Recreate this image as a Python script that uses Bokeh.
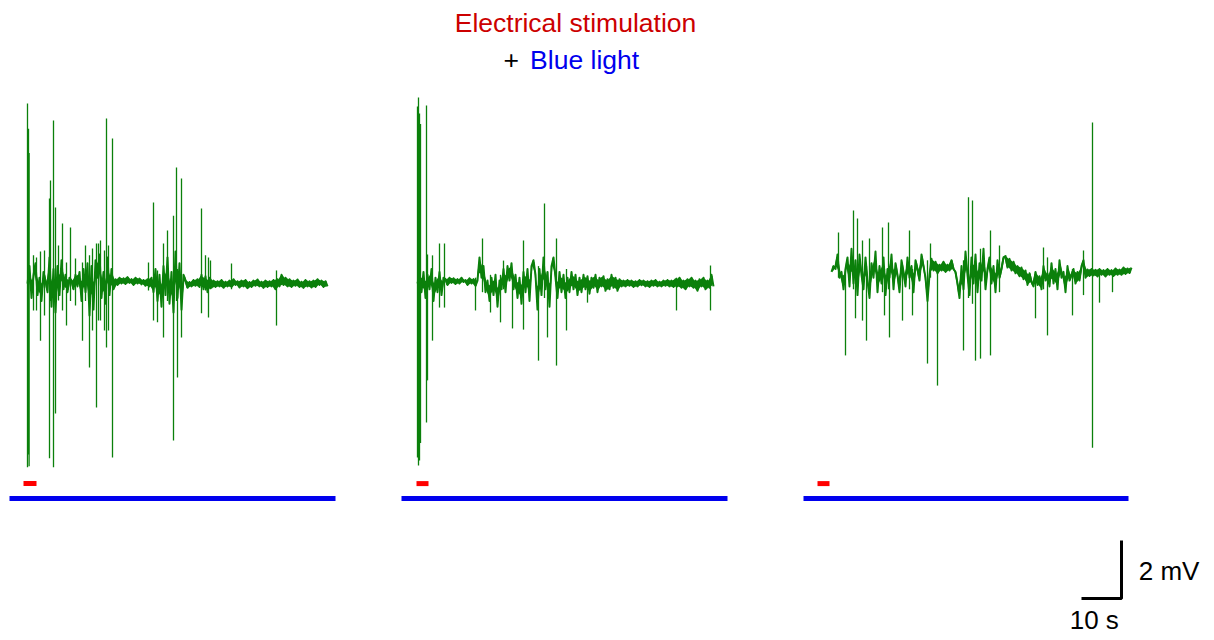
from bokeh.plotting import figure
from bokeh.models import Range1d
from bokeh.core.properties import value
from bokeh.embed import file_html
from bokeh.resources import INLINE
import numpy as np

# ---------------- data ----------------
DT = 0.5  # s, sample spacing of the traces
SWEEP_START = [6.75, 104.25, 207.75]  # s, sweep positions on the common time axis

trace1_mv = [0.0, 0.6, -0.5, 0.3, 0.7, -0.4, 0.2, -0.6, 0.4, 0.1,
             -0.3, 0.9, -0.8, 0.5, -1.0, 0.6, -0.4, 0.8, -0.2, 0.3,
             -0.3, 0.2, 0.1, -0.2, 0.3, -0.1, 0.4, -0.6, 0.5, -0.3,
             0.7, -1.1, 0.6, -0.9, 0.8, 0.2, 1.0, -0.5, 0.4, -0.7,
             0.9, -0.4, 0.5, -0.2,
             0.15, -0.05, 0.2, 0.0, 0.18, -0.02, 0.22, 0.02, 0.15, -0.05,
             0.2, 0.0, 0.17, -0.03, 0.12, -0.08, 0.15, -0.1,
             0.2, -0.3, 0.5, -0.6, 0.3, -0.8, 0.6, -0.4, 0.9, -0.7,
             0.4, -1.0, 1.1, -0.5, 0.7, -0.9, 0.3,
             0.1, -0.15, 0.05, -0.1, 0.12, -0.08, 0.15, -0.12, 0.3, -0.2,
             0.25, -0.3, 0.2, -0.15, 0.1, -0.12, 0.08, -0.1, 0.12, -0.15,
             0.06, -0.1, 0.1, -0.12, 0.15, -0.05, 0.08, -0.14, 0.1, -0.1,
             0.12, -0.16, 0.05, -0.12, 0.1, -0.08, 0.14, -0.1, 0.06, -0.15,
             0.1, -0.12, 0.08, -0.1, 0.12, -0.2, 0.15, -0.1, 0.3, -0.05,
             0.2, -0.1, 0.15, -0.12, 0.1, -0.08, 0.14, -0.12, 0.06, -0.15,
             0.12, -0.1, 0.08, -0.14, 0.1, -0.12, 0.15, -0.05, 0.1, -0.12,
             0.08, -0.1]

trace2_mv = [0.0, 0.3, -0.3,
             0.4, -0.5, 0.3, -0.2, 0.5, -0.6, 0.2, -0.3, 0.4, -0.4, 0.2,
             0.15, -0.05, 0.2, 0.02, 0.18, -0.02, 0.15, 0.0, 0.2, 0.05,
             0.12, -0.05, 0.18, 0.0, 0.15, -0.08, 0.1,
             0.9, 0.2, 0.6, -0.3, 0.1, -0.6, 0.2, -0.4, 0.3, -0.8,
             0.1, -0.2, 0.5, -0.3, 0.6, 0.1, 0.7, -0.2, 0.3, -0.5,
             0.2, -0.7, 0.4, -0.3, 0.5, -0.6, 0.6, 0.8, 0.3, -0.9,
             0.5, -0.4, 0.9, -0.2, 0.4, -0.8, 0.6, 0.9, 0.2, -0.5,
             0.4, -0.3, 0.3, -0.5, 0.2, -0.3, 0.4, -0.2, 0.3, -0.4,
             0.2, -0.3,
             0.3, -0.2, 0.25, -0.35, 0.2, -0.15, 0.3, -0.3, 0.2, -0.1,
             0.25, -0.25, 0.15, -0.2, 0.3, -0.15, 0.2, -0.25, 0.15, -0.1,
             0.1, -0.1, 0.12, -0.08, 0.1, -0.12, 0.08, -0.1, 0.12, -0.06,
             0.1, -0.1, 0.08, -0.12, 0.1, -0.08, 0.12, -0.1, 0.06, -0.1,
             0.1, -0.08, 0.12, -0.1, 0.1, -0.12, 0.15, -0.1,
             0.2, -0.15, 0.1, -0.2, 0.15, -0.1, 0.2, -0.15, 0.1, -0.25,
             0.15, -0.1, 0.2, -0.2, 0.1, -0.15, 0.3, -0.1]

trace3_mv = [0.4, 0.6, 0.5, 1.0, 0.2, 0.4, -0.2, 0.5,
             0.9, -0.1, 1.2, 0.0, 0.8, -0.4, 1.0, 0.3, -0.2, 0.9,
             0.1, -0.5, 0.7, 0.2, 1.1, -0.3, 0.6, 0.0, 0.9, -0.4,
             0.5, 0.2, 1.0, -0.2, 0.7, 0.3, -0.3, 0.8,
             0.4, -0.1, 0.9, 0.2, 0.6, -0.3, 0.8, 0.5, 0.1, 1.0, 0.6, 0.2,
             -0.6, 0.3, 0.85, 0.45, 0.75, 0.35, 0.65, 0.45, 0.75, 0.4,
             0.65, 0.45, 0.8, 0.5, 0.4,
             0.0, -0.5, 0.6, -0.2, 1.1, 0.3, -0.4, 0.9, 0.0, 1.0,
             -0.3, 0.7, 0.1, 1.2, -0.2, 0.5, 0.9, 0.0, 0.6, -0.3,
             0.8, 0.2, 0.5, 0.9,
             0.95, 0.55, 0.85, 0.45, 0.75, 0.35, 0.6, 0.25, 0.55, 0.15,
             0.45, -0.05, 0.35, 0.05, -0.1, 0.4, -0.05, 0.25, -0.2, 0.6,
             0.1, 0.35, -0.1,
             0.7, 0.0, 0.5, -0.2, 0.8, 0.2, 0.4, -0.3, 0.6, 0.1,
             0.3, 0.5, 0.0, 0.4, 0.1, 0.6, 0.8, 0.2,
             0.48, 0.26, 0.5, 0.28, 0.47, 0.24, 0.5, 0.3, 0.46, 0.24,
             0.5, 0.3, 0.46, 0.26, 0.52, 0.3, 0.48, 0.3, 0.55, 0.33,
             0.52, 0.36, 0.55]

# fast excursions (time within sweep, s ; peak and trough, mV)
spikes1_t = [0.0, 0.25, 0.4, 2.25, 3.25, 5.5, 5.75, 6.5, 7.0, 8.75,
             10.75, 13.75, 14.5, 15.5, 17.25, 17.75, 19.75, 20.25, 21.25, 30.25,
             31.5, 32.5, 34.0, 35.0, 36.5, 37.25, 37.5, 38.5, 43.5, 44.5,
             45.25, 45.75, 51.0, 62.25,
             1.5, 4.25, 7.75, 9.75, 12.0, 16.25, 18.25, 19.25]
spikes1_hi = [6.21, 5.34, 4.5, 0.9, 1.1, 2.93, 3.55, 5.62, 2.62, 2.07,
              1.93, 0.72, 1.31, 0.97, 1.38, 1.38, 5.69, 1.31, 5.0, 0.72,
              2.79, 0.45, 1.38, 1.83, 2.34, 4.0, 0.5, 3.62, 2.59, 0.97,
              0.9, 0.79, 0.69, 0.45,
              0.97, 1.14, 1.31, 0.72, 0.86, 1.21, 1.48, 1.14]
spikes1_lo = [-6.34, -5.9, -6.3, -0.93, -1.97, -6.03, -0.6, -6.34, -4.48, -0.93,
              -0.6, -1.97, -0.6, -2.9, -4.28, -1.28, -2.21, -1.62, -6.0, -0.24,
              -1.28, -1.34, -1.86, -0.6, -5.41, -0.6, -3.24, -1.86, -1.03, -0.24,
              -1.17, -0.2, -0.2, -1.45,
              -0.93, -1.1, -0.59, -1.45, -0.76, -1.62, -1.28, -1.62]

spikes2_t = [0.0, 0.25, 0.5, 0.75, 2.25, 2.5, 3.75, 5.5, 6.75, 14.5,
             16.25, 18.25, 20.75, 21.5, 23.75, 26.5, 30.25, 31.75, 32.5, 34.75,
             37.25, 42.5, 64.75, 73.25]
spikes2_hi = [6.1, 6.41, 5.86, 5.5, 6.14, 1.0, 0.97, 1.38, 1.38, 0.2,
              1.55, 0.3, 0.3, 0.79, 0.3, 1.48, 0.6, 2.76, 0.4, 1.55,
              0.5, 0.2, 0.2, 0.62]
spikes2_lo = [-6.0, -6.28, -6.1, -5.5, -4.79, -3.34, -1.97, -0.83, -0.83, -0.93,
              -0.3, -1.0, -1.34, -0.2, -1.55, -1.59, -2.66, -0.5, -1.86, -2.83,
              -1.62, -0.66, -0.93, -0.93]

spikes3_t = [1.75, 3.5, 5.5, 6.0, 6.5, 7.75, 8.75, 9.5, 12.75, 13.25,
             14.25, 14.5, 17.75, 19.5, 20.25, 24.0, 24.75, 26.5, 33.0, 34.25,
             35.25, 36.0, 37.25, 39.75, 42.0, 51.0, 53.0, 54.0, 60.25, 63.0,
             65.25, 67.0, 70.25]
spikes3_hi = [1.76, 0.5, 2.52, 0.8, 2.24, 1.48, 0.6, 1.55, 1.93, 0.5,
              2.1, 0.6, 0.5, 1.83, 0.5, 0.8, 1.38, 0.5, 0.8, 2.97,
              2.86, 0.6, 1.2, 1.83, 1.31, 0.4, 1.24, 0.9, 0.5, 1.14,
              5.55, 0.4, 0.4]
spikes3_lo = [0.2, -2.48, -0.2, -1.2, 0.0, -1.28, -1.97, 0.0, -0.3, -1.1,
              -0.2, -1.86, -1.28, -0.2, -1.1, -2.76, 0.2, -3.52, -2.31, -0.5,
              -0.7, -2.66, -2.59, -2.48, -0.3, -1.2, -0.2, -1.79, -1.1, -0.4,
              -5.66, -0.66, -0.3]

# stimulation / light windows (s, relative to sweep start)
stim_on = [-1.0, -0.25, -3.5]
stim_off = [2.25, 2.75, -0.5]
light_on = [-4.5, -4.0, -7.0]
light_off = [77.0, 77.5, 74.25]

SCALE_T = 10   # s
SCALE_V = 2    # mV

# ---------------- figure ----------------
W, H = 1212, 638
PX_PER_S = 4.0
PX_PER_MV = 29.0
TOP_MV = 283 / PX_PER_MV
p = figure(width=W, height=H, output_backend="svg", toolbar_location=None,
           x_range=Range1d(0, W / PX_PER_S),
           y_range=Range1d(TOP_MV - H / PX_PER_MV, TOP_MV),
           min_border=0, outline_line_color=None, background_fill_color="white",
           border_fill_color="white")
p.axis.visible = False
p.xgrid.visible = False
p.ygrid.visible = False

GREEN = "#0b800b"
CORE = 0.17  # mV, half-thickness of the dense noise core drawn along the trace
traces = [trace1_mv, trace2_mv, trace3_mv]
spikes = [(spikes1_t, spikes1_hi, spikes1_lo),
          (spikes2_t, spikes2_hi, spikes2_lo),
          (spikes3_t, spikes3_hi, spikes3_lo)]

for k in range(3):
    t0 = SWEEP_START[k]
    st, hi, lo = spikes[k]
    st = t0 + np.array(st)
    p.segment(x0=st, y0=lo, x1=st, y1=hi, line_color=GREEN, line_width=1.3)
    v = np.array(traces[k])
    t = t0 + np.arange(len(v)) * DT
    # dense noise core: envelope between neighbouring samples, limited in thickness
    a, b = v[:-1], v[1:]
    mid = (a + b) / 2
    env_lo = np.maximum(np.minimum(a, b), mid - CORE)
    env_hi = np.minimum(np.maximum(a, b), mid + CORE)
    tm = (t[:-1] + t[1:]) / 2
    p.varea(x=tm, y1=env_lo, y2=env_hi, fill_color=GREEN, fill_alpha=1.0)
    p.line(t, v, line_color=GREEN, line_width=2.0, line_join="round")
    # stimulation marker
    p.segment(x0=[t0 + stim_on[k]], y0=[-6.9], x1=[t0 + stim_off[k]], y1=[-6.9],
              line_color="#ff0000", line_width=5)
    # light bar
    p.segment(x0=[t0 + light_on[k]], y0=[-7.41], x1=[t0 + light_off[k]], y1=[-7.41],
              line_color="#0000ee", line_width=5)

# scale bar
cx, cy = 280.25, -10.86
p.line([cx - SCALE_T, cx, cx], [cy, cy, cy + SCALE_V], line_color="black", line_width=3)
FONT = value("Liberation Sans")
p.text(x=[cx + 4.3], y=[cy + 0.93], text=[f"{SCALE_V} mV"], text_font=FONT,
       text_font_size="26px", text_align="left", text_baseline="middle", text_color="black")
p.text(x=[cx - 6.8], y=[cy - 0.76], text=[f"{SCALE_T} s"], text_font=FONT,
       text_font_size="26px", text_align="center", text_baseline="middle", text_color="black")

# titles
p.text(x=[143.75], y=[8.97], text=["Electrical stimulation"], text_font=FONT,
       text_font_size="26.5px", text_align="center", text_baseline="middle", text_color="#cc0000")
p.text(x=[129.6], y=[7.69], text=["+"], text_font=FONT,
       text_font_size="26.5px", text_align="right", text_baseline="middle", text_color="black")
p.text(x=[132.4], y=[7.69], text=["Blue light"], text_font=FONT,
       text_font_size="26.5px", text_align="left", text_baseline="middle", text_color="#0000ee")

open("out.html", "w").write(file_html(p, INLINE))
